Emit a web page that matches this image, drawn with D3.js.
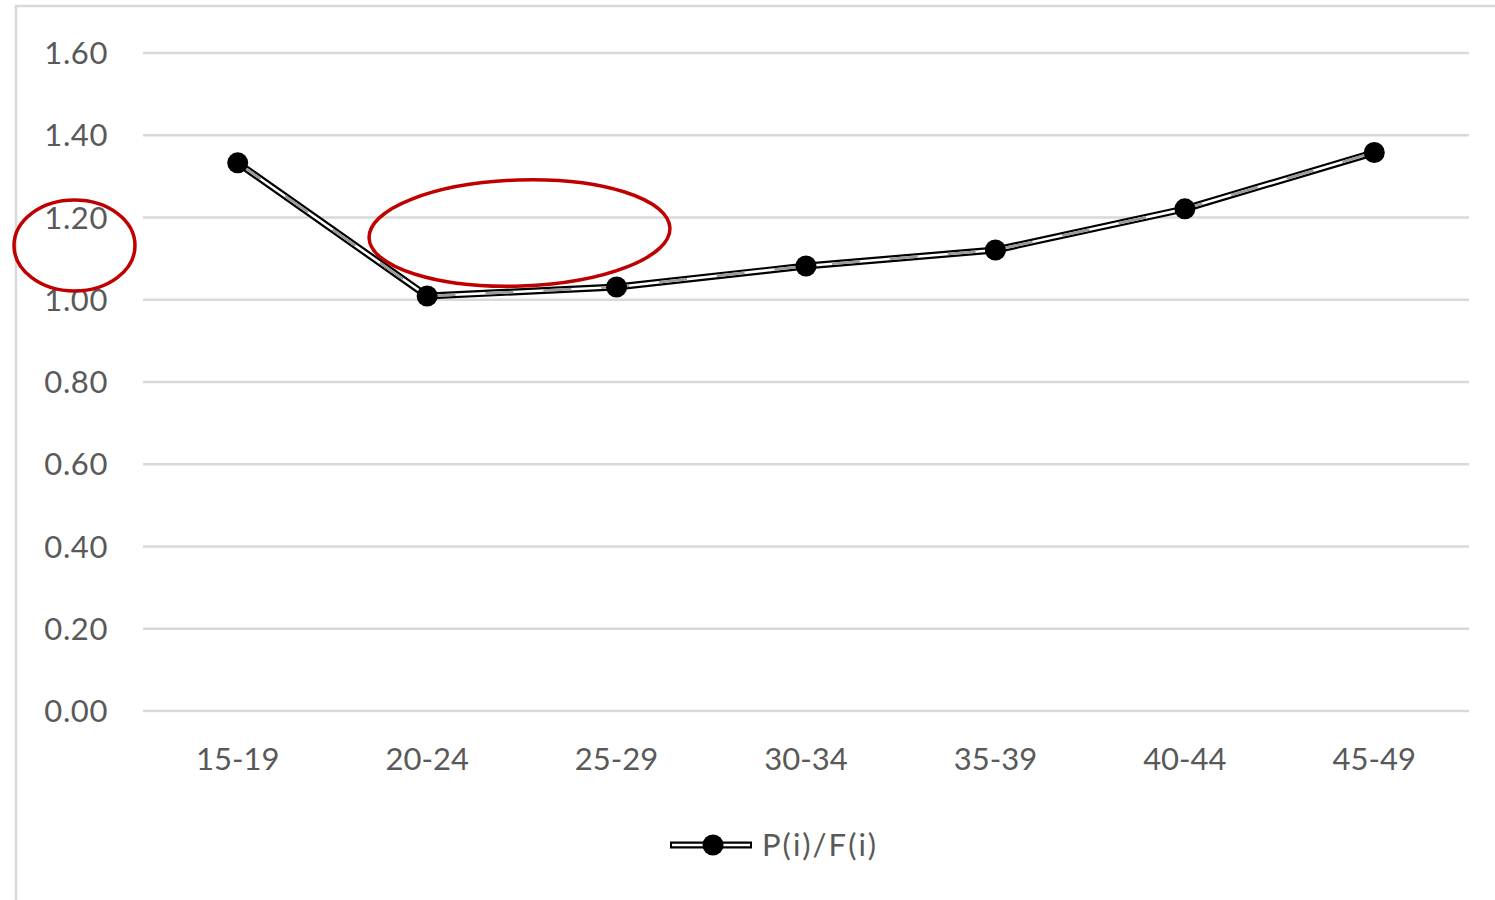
<!DOCTYPE html>
<html>
<head>
<meta charset="utf-8">
<script src="https://cdn.jsdelivr.net/npm/d3@7"></script>
<style>
  html, body { margin: 0; padding: 0; background: #ffffff; }
  svg { display: block; }
  text { font-family: Lato, "Open Sans", sans-serif; fill: #595959; }
</style>
</head>
<body>
<svg id="chart" width="1495" height="900"></svg>
<script>
// Age groups and the ratio P(i)/F(i) for each
const categories = ["15-19", "20-24", "25-29", "30-34", "35-39", "40-44", "45-49"];
const ratioValues = [1.333, 1.009, 1.031, 1.082, 1.121, 1.221, 1.358];
const yTicks = [0, 0.2, 0.4, 0.6, 0.8, 1.0, 1.2, 1.4, 1.6];
const seriesName = "P(i)/F(i)";

const svg = d3.select("#chart");
const W = 1495, H = 900;

// Outer chart frame (only top and left edges fall inside the view)
svg.append("rect")
  .attr("x", 16).attr("y", 6)
  .attr("width", W + 20).attr("height", H + 20)
  .attr("fill", "none").attr("stroke", "#d9d9d9").attr("stroke-width", 2.5);

const plot = { left: 143, right: 1469, top: 53, bottom: 711 };

const x = d3.scaleBand().domain(categories).range([plot.left, plot.right]).padding(0);
const y = d3.scaleLinear().domain([0, 1.6]).range([plot.bottom, plot.top]);

// Horizontal gridlines
svg.append("g").selectAll("line").data(yTicks).join("line")
  .attr("x1", plot.left).attr("x2", plot.right)
  .attr("y1", d => y(d)).attr("y2", d => y(d))
  .attr("stroke", "#d9d9d9").attr("stroke-width", 2.5);

// Y axis labels
const yAxis = d3.axisLeft(y).tickValues(yTicks).tickFormat(d3.format(".2f")).tickSize(0).tickPadding(35);
const gy = svg.append("g").attr("transform", `translate(${plot.left},0)`).call(yAxis);
gy.select(".domain").remove();
gy.selectAll("text").attr("font-size", 31).attr("font-family", "Lato, 'Open Sans', sans-serif")
  .attr("fill", "#595959").attr("dy", "0.34em").attr("letter-spacing", 0.6);

// X axis labels
const xAxis = d3.axisBottom(x).tickSize(0).tickPadding(37);
const gx = svg.append("g").attr("transform", `translate(0,${plot.bottom})`).call(xAxis);
gx.select(".domain").remove();
gx.selectAll("text").attr("font-size", 31).attr("font-family", "Lato, 'Open Sans', sans-serif").attr("fill", "#595959");

// Series line: double black line with a light dashed core
const pts = categories.map((c, i) => [x(c) + x.bandwidth() / 2, y(ratioValues[i])]);
const line = d3.line();
svg.append("path").attr("d", line(pts)).attr("fill", "none")
  .attr("stroke", "#000").attr("stroke-width", 7).attr("stroke-linejoin", "round");
svg.append("path").attr("d", line(pts)).attr("fill", "none")
  .attr("stroke", "#ffffff").attr("stroke-width", 2.6).attr("stroke-linejoin", "round");
svg.append("path").attr("d", line(pts)).attr("fill", "none")
  .attr("stroke", "#9a9a9a").attr("stroke-width", 2.6).attr("stroke-dasharray", "28 30");

// Markers
svg.append("g").selectAll("circle").data(pts).join("circle")
  .attr("cx", d => d[0]).attr("cy", d => d[1]).attr("r", 10.5).attr("fill", "#000");

// Legend
const lg = svg.append("g").attr("transform", "translate(668,845)");
lg.append("line").attr("x1", 2).attr("x2", 84).attr("y1", 0).attr("y2", 0)
  .attr("stroke", "#000").attr("stroke-width", 7);
lg.append("line").attr("x1", 4).attr("x2", 82).attr("y1", 0).attr("y2", 0)
  .attr("stroke", "#fff").attr("stroke-width", 2.6);
lg.append("circle").attr("cx", 45).attr("cy", 0).attr("r", 10.5).attr("fill", "#000");
lg.append("text").attr("x", 94).attr("y", 0).attr("dy", "0.36em")
  .attr("font-size", 31).attr("letter-spacing", 2).text(seriesName);

// Red highlight ellipses
svg.append("ellipse").attr("cx", 74.5).attr("cy", 245.5).attr("rx", 60.5).attr("ry", 45.5)
  .attr("fill", "none").attr("stroke", "#c00000").attr("stroke-width", 3.5);
svg.append("ellipse").attr("cx", 0).attr("cy", 0).attr("rx", 150.5).attr("ry", 53)
  .attr("transform", "translate(519.5,233) rotate(-1.9)")
  .attr("fill", "none").attr("stroke", "#c00000").attr("stroke-width", 3.5);
</script>
</body>
</html>
